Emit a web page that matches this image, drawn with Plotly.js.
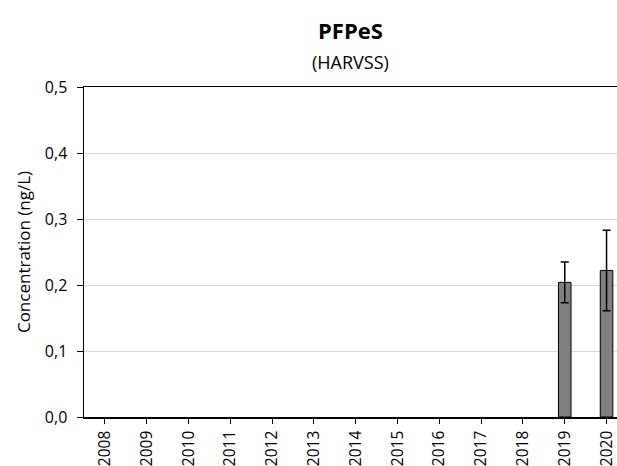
<!DOCTYPE html>
<html>
<head>
<meta charset="utf-8">
<script src="https://cdn.plot.ly/plotly-3.0.1.min.js"></script>
<style>html,body{margin:0;padding:0;background:#fff;}#chart{width:617px;height:466px;}</style>
</head>
<body>
<div id="chart"></div>
<script>
const years = ['2008','2009','2010','2011','2012','2013','2014','2015','2016','2017','2018','2019','2020'];
const values = [null,null,null,null,null,null,null,null,null,null,null,0.204,0.222];
const errors = [null,null,null,null,null,null,null,null,null,null,null,0.031,0.061];
const yTicks = [0,0.1,0.2,0.3,0.4,0.5];
const yTickLabels = ['0,0','0,1','0,2','0,3','0,4','0,5'];
const chartTitle = 'PFPeS';
const chartSubtitle = '(HARVSS)';
const yTitle = 'Concentration (ng/L)';

const font = '"Open Sans", "Noto Sans", sans-serif';

Plotly.newPlot('chart', [{
  type: 'bar',
  x: years,
  y: values,
  width: 0.3,
  marker: {color: '#808080', line: {color: '#000', width: 1}},
  error_y: {type: 'data', array: errors, visible: true, color: '#000', thickness: 1.5, width: 4}
}], {
  width: 617, height: 466,
  margin: {l: 84, r: 0, t: 87, b: 49},
  paper_bgcolor: '#fff', plot_bgcolor: '#fff',
  showlegend: false,
  font: {family: font, color: '#000', size: 15},
  xaxis: {
    type: 'category', range: [-0.5, 12.25],
    showline: true, linecolor: '#000', linewidth: 1.5, mirror: true,
    ticks: 'outside', ticklen: 5, tickcolor: '#000', tickwidth: 1,
    tickangle: -90, tickfont: {size: 15.5, family: font},
    ticklabelstandoff: 1,
    showgrid: false, zeroline: false, fixedrange: true
  },
  yaxis: {
    range: [0, 0.5], tickvals: yTicks, ticktext: yTickLabels,
    showline: true, linecolor: '#000', linewidth: 1.5,
    ticks: 'outside', ticklen: 6, tickcolor: '#000', tickwidth: 1,
    tickfont: {size: 16, family: font},
    ticklabelstandoff: 6,
    showgrid: true, gridcolor: '#d9d9d9', gridwidth: 1, zeroline: false,
    title: {text: yTitle, font: {size: 17, family: font}, standoff: 10},
    fixedrange: true
  },
  annotations: [
    {text: '<b>' + chartTitle + '</b>', xref: 'paper', yref: 'paper', x: 0.5, y: 1.1727, showarrow: false, font: {size: 22, family: font}, xanchor: 'center', yanchor: 'middle'},
    {text: chartSubtitle, xref: 'paper', yref: 'paper', x: 0.5, y: 1.0758, showarrow: false, font: {size: 18, family: font}, xanchor: 'center', yanchor: 'middle'}
  ]
}, {staticPlot: true});
</script>
</body>
</html>
